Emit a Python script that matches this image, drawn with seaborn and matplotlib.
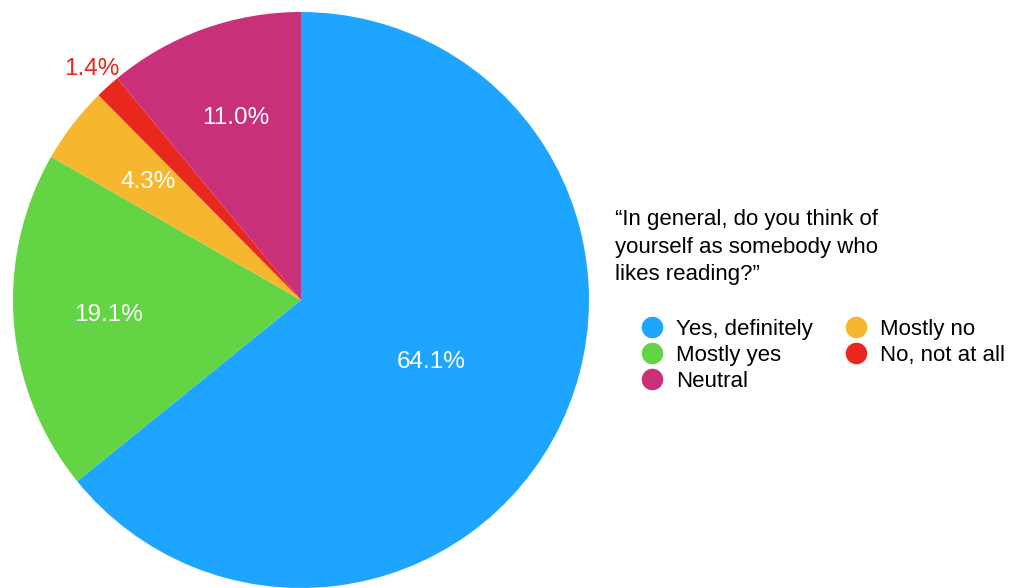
import numpy as np
import seaborn as sns
import matplotlib.pyplot as plt
from matplotlib.lines import Line2D

answers = ["Yes, definitely", "Mostly yes", "Mostly no", "No, not at all", "Neutral"]
shares = [64.1, 19.1, 4.3, 1.4, 11.0]
colors = ["#1EA5FF", "#63D545", "#F6B72E", "#E8281F", "#C8307A"]
question = "\u201cIn general, do you think of\nyourself as somebody who\nlikes reading?\u201d"

sns.set_theme(style="white")
plt.rcParams['font.family'] = ['Liberation Sans', 'DejaVu Sans']
plt.rcParams['text.color'] = 'black'

fig = plt.figure(figsize=(10.13, 5.88), dpi=100)
ax = fig.add_axes([13 / 1013, 0, 576 / 1013, 576 / 588])

wedges, _ = ax.pie(shares, colors=colors, startangle=90, counterclock=False,
                   wedgeprops=dict(linewidth=0))
ax.set_xlim(-1, 1)
ax.set_ylim(-1, 1)
ax.set_aspect("equal")

# percentage labels placed from each wedge's mid angle
for i, (w, v) in enumerate(zip(wedges, shares)):
    mid = np.deg2rad((w.theta1 + w.theta2) / 2)
    if v > 50:
        r, col = 0.5, "white"
    elif v < 2:
        r, col = 1.08, colors[i]
    else:
        r, col = 0.67, "white"
    ax.text(r * np.cos(mid), r * np.sin(mid), f"{v:.1f}%", color=col,
            ha="center", va="center", fontsize=17.5)

fig.text(615 / 1013, 1 - 209 / 588, question, ha="left", va="top",
         fontsize=16, linespacing=1.42, color="black")

order = [0, 1, 4, 2, 3]
handles = [Line2D([], [], marker="o", linestyle="none", markersize=15.5,
                  markerfacecolor=colors[i], markeredgewidth=0) for i in order]
leg = fig.legend(handles, [answers[i] for i in order], ncol=2,
                 loc="upper left", bbox_to_anchor=(639 / 1013, 1 - 319 / 588),
                 frameon=False, fontsize=16, handletextpad=0.45,
                 columnspacing=1.38, labelspacing=0.22, handlelength=1.2,
                 borderpad=0, borderaxespad=0)
for t in leg.get_texts():
    t.set_color("black")

fig.savefig("out.png", dpi=100)
